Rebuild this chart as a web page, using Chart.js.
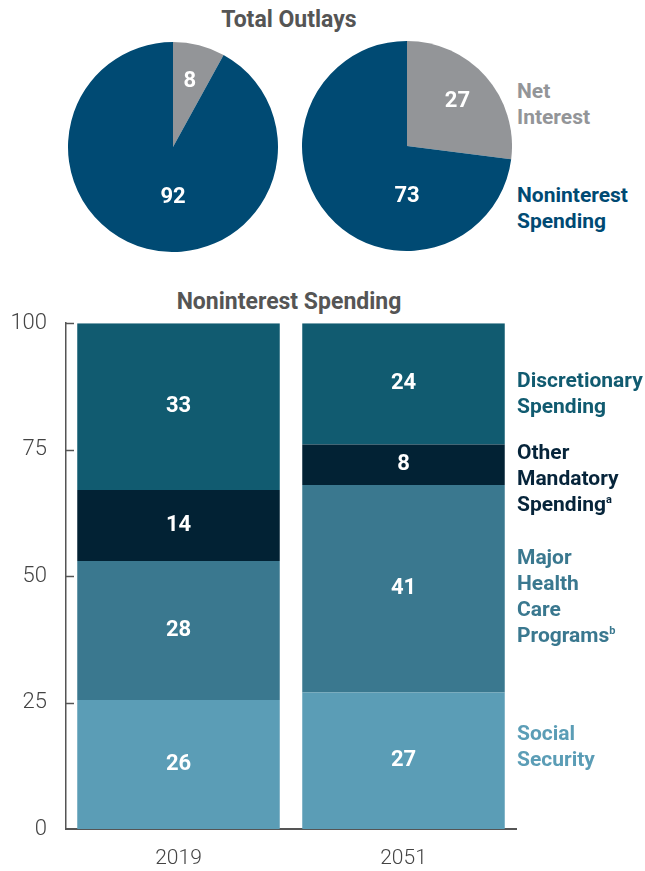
<!DOCTYPE html>
<html>
<head>
<meta charset="utf-8">
<script src="https://cdn.jsdelivr.net/npm/chart.js@4.4.0/dist/chart.umd.min.js"></script>
<style>
  body { margin: 0; width: 645px; height: 871px; background: #fff; position: relative; overflow: hidden; font-family: Roboto, "Noto Sans", sans-serif; }
  .box { position: absolute; }
  .title { position: absolute; font-weight: 700; font-size: 23px; color: #555; text-align: center; width: 300px; }
  .lbl { position: absolute; left: 517px; font-weight: 700; font-size: 21px; line-height: 26px; white-space: nowrap; }
  sup { font-size: 11px; vertical-align: 8px; line-height: 0; }
</style>
</head>
<body>
<div class="title" style="left:139px; top:6px;">Total Outlays</div>
<div class="box" style="left:68px; top:42px; width:210px; height:210px;"><canvas id="pie2019"></canvas></div>
<div class="box" style="left:302px; top:41px; width:210px; height:210px;"><canvas id="pie2051"></canvas></div>
<div class="lbl" style="top:78px; color:#939598;">Net<br>Interest</div>
<div class="lbl" style="top:182px; color:#004a73;">Noninterest<br>Spending</div>

<div class="title" style="left:139px; top:288px;">Noninterest Spending</div>
<div class="box" style="left:0; top:291px; width:522px; height:580px;"><canvas id="stack"></canvas></div>
<div class="lbl" style="top:367px; color:#115b70;">Discretionary<br>Spending</div>
<div class="lbl" style="top:439px; color:#06243a;">Other<br>Mandatory<br>Spending<sup>a</sup></div>
<div class="lbl" style="top:544px; color:#3a788f;">Major<br>Health<br>Care<br>Programs<sup>b</sup></div>
<div class="lbl" style="top:720px; color:#5b9db6;">Social<br>Security</div>

<script>
const years = ["2019", "2051"];
const netInterest = [8, 27];
const noninterest = [92, 73];
const socialSecurity = [25.5, 27];
const healthCare = [27.5, 41];
const otherMandatory = [14, 8];
const discretionary = [33, 24];
const yTicks = [0, 25, 50, 75, 100];

const GRAY = "#939598";
const BLUE = "#004a73";
const AXIS = "#555";

// white numbers on pie slices
const pieLabels = {
  id: "pieLabels",
  afterDatasetsDraw(chart) {
    const ctx = chart.ctx;
    const values = chart.data.datasets[0].data;
    const total = values.reduce((a, b) => a + b, 0);
    ctx.save();
    ctx.fillStyle = "#fff";
    ctx.font = "700 22px Roboto";
    ctx.textAlign = "center";
    ctx.textBaseline = "middle";
    chart.getDatasetMeta(0).data.forEach((arc, i) => {
      const p = arc.getProps(["x", "y", "startAngle", "endAngle", "outerRadius"], true);
      let x, y;
      if (values[i] / total > 0.5) {
        x = p.x;
        y = p.y + p.outerRadius * 0.48;
      } else {
        const mid = (p.startAngle + p.endAngle) / 2;
        const r = p.outerRadius * 0.64;
        x = p.x + Math.cos(mid) * r;
        y = p.y + Math.sin(mid) * r;
      }
      ctx.fillText(String(values[i]), x, y);
    });
    ctx.restore();
  },
};

function makePie(id, i) {
  return new Chart(id, {
    type: "pie",
    data: {
      labels: ["Net Interest", "Noninterest Spending"],
      datasets: [{
        data: [netInterest[i], noninterest[i]],
        backgroundColor: [GRAY, BLUE],
        borderWidth: 0,
      }],
    },
    options: {
      responsive: true,
      maintainAspectRatio: false,
      animation: false,
      layout: { padding: 0 },
      plugins: { legend: { display: false }, tooltip: { enabled: false } },
    },
    plugins: [pieLabels],
  });
}

makePie("pie2019", 0);
makePie("pie2051", 1);

// ticks that point into the plot, plus the segment values
const barExtras = {
  id: "barExtras",
  afterDatasetsDraw(chart) {
    const ctx = chart.ctx;
    ctx.save();
    ctx.fillStyle = "#fff";
    ctx.font = "700 22px Roboto";
    ctx.textAlign = "center";
    ctx.textBaseline = "middle";
    chart.data.datasets.forEach((ds, d) => {
      chart.getDatasetMeta(d).data.forEach((bar, i) => {
        const c = bar.getCenterPoint();
        ctx.fillText(String(Math.round(ds.data[i])), c.x, c.y);
      });
    });
    const y = chart.scales.y;
    ctx.strokeStyle = AXIS;
    ctx.lineWidth = 1.5;
    yTicks.forEach((v) => {
      if (v === 0) return;
      const py = Math.round(y.getPixelForValue(v)) + 0.5;
      ctx.beginPath();
      ctx.moveTo(y.right, py);
      ctx.lineTo(y.right + 8, py);
      ctx.stroke();
    });
    ctx.restore();
  },
};

const segs = [
  ["Social Security", socialSecurity, "#5b9db6"],
  ["Major Health Care Programs", healthCare, "#3a788f"],
  ["Other Mandatory Spending", otherMandatory, "#022234"],
  ["Discretionary Spending", discretionary, "#115b70"],
];

new Chart("stack", {
  type: "bar",
  data: {
    labels: years,
    datasets: segs.map(([label, data, color]) => ({
      label: label,
      data: data,
      backgroundColor: color,
      borderWidth: 0,
      barPercentage: 0.9,
      categoryPercentage: 1,
    })),
  },
  options: {
    responsive: true,
    maintainAspectRatio: false,
    animation: false,
    layout: { padding: { top: 10, right: 6, left: 0, bottom: 0 } },
    plugins: { legend: { display: false }, tooltip: { enabled: false } },
    scales: {
      x: {
        stacked: true,
        grid: { display: false, drawTicks: false },
        border: { color: AXIS, width: 2 },
        ticks: { color: "#444", padding: 17, font: { family: "Roboto", size: 21, weight: 300 } },
        afterFit: (s) => { s.height = 42; },
      },
      y: {
        stacked: true,
        min: 0,
        max: 100,
        grid: { display: false, drawTicks: false },
        border: { color: AXIS, width: 1.5 },
        ticks: { color: "#444", padding: 19, font: { family: "Roboto", size: 22, weight: 300 } },
        afterBuildTicks: (s) => { s.ticks = yTicks.map((v) => ({ value: v })); },
        afterFit: (s) => { s.width = 66; },
      },
    },
  },
  plugins: [barExtras],
});
</script>
</body>
</html>
